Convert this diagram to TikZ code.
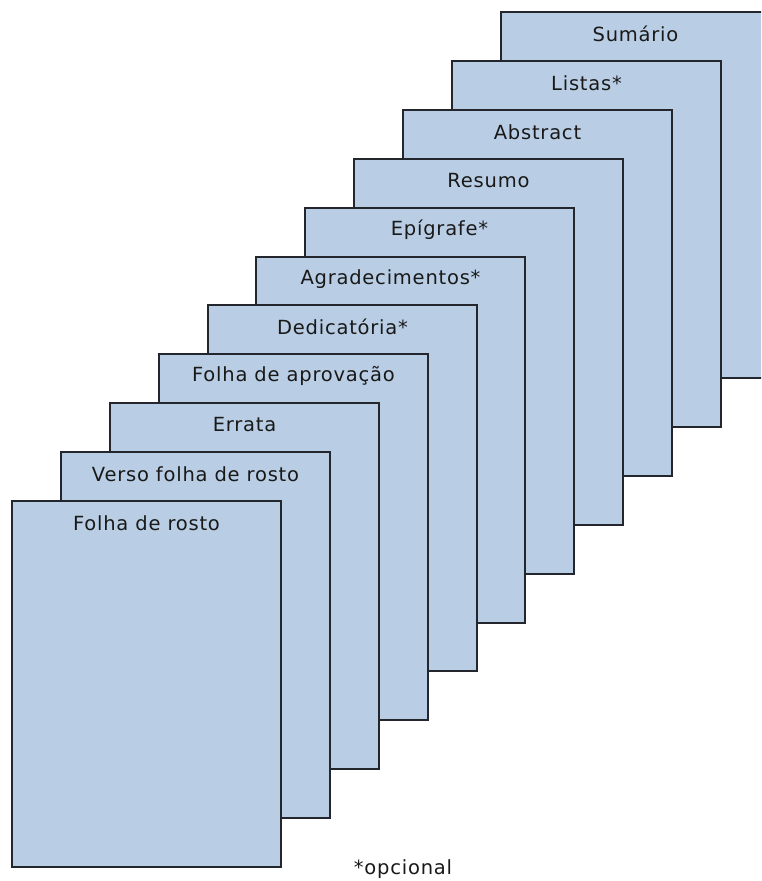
\documentclass[tikz,border=0pt]{standalone}
\usepackage{fontspec}
\setmainfont{DejaVu Sans}[LetterSpace=4]
\definecolor{pagefill}{RGB}{185,206,228}
\definecolor{pageline}{RGB}{35,38,45}
\definecolor{txt}{RGB}{25,25,25}
\begin{document}
\begin{tikzpicture}[x=1pt,y=-1pt,
  page/.style={draw=pageline,line width=1.6pt,fill=pagefill,anchor=north west,
    minimum width=269pt,minimum height=366pt,inner sep=0pt,outer sep=0pt},
  ptitle/.style={anchor=center,font=\fontsize{19.5}{22}\selectfont,text=txt,inner sep=0pt}]
\useasboundingbox (0,0) rectangle (761,881);
\clip (0,0) rectangle (761,881);
\foreach \i/\t in {10/Sumário,9/Listas*,8/Abstract,7/Resumo,6/Epígrafe*,5/Agradecimentos*,4/Dedicatória*,3/Folha de aprovação,2/Errata,1/Verso folha de rosto,0/Folha de rosto}{
  \pgfmathsetmacro{\px}{round(12+48.9*\i)}
  \pgfmathsetmacro{\py}{round(501-48.9*\i)}
  \node[page] (p\i) at (\px,\py) {};
  \node[ptitle] (t\i) at ([yshift=-22pt]p\i.north) {\t};
}
\node[ptitle] (opc) at (403,869) {*opcional};
\end{tikzpicture}
\end{document}
